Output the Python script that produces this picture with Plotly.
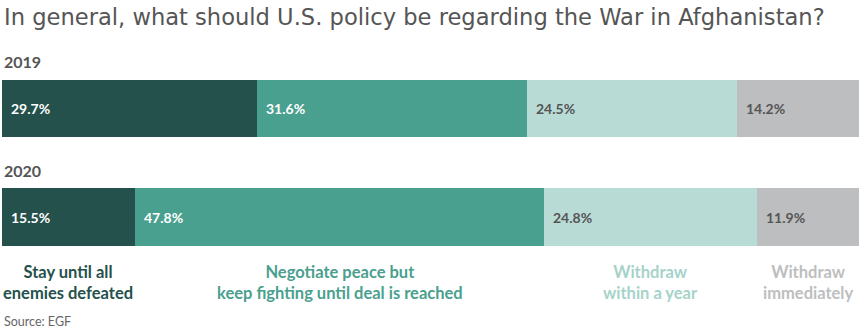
import plotly.graph_objects as go

years = ["2019", "2020"]
categories = ["Stay until all<br>enemies defeated",
              "Negotiate peace but<br>keep fighting until deal is reached",
              "Withdraw<br>within a year",
              "Withdraw<br>immediately"]
values_2019 = [29.7, 31.6, 24.5, 14.2]
values_2020 = [15.5, 47.8, 24.8, 11.9]
series = {"2019": values_2019, "2020": values_2020}

colors = ["#24514B", "#4AA08E", "#B8DCD5", "#BDBEC0"]
text_colors = ["#FFFFFF", "#FFFFFF", "#555555", "#555555"]
label_colors = ["#24514B", "#4AA08E", "#A6D3C9", "#BDBEC0"]

fig = go.Figure()
for i, cat in enumerate(categories):
    fig.add_trace(go.Bar(
        y=years,
        x=[series[yr][i] for yr in years],
        orientation="h",
        marker=dict(color=colors[i], line=dict(width=0)),
        width=0.53,
        name=cat,
        hoverinfo="skip",
        showlegend=False,
    ))

annotations = []
# value labels
for j, yr in enumerate(years):
    start = 0
    for i, v in enumerate(series[yr]):
        annotations.append(dict(
            x=start, y=j, xref="x", yref="y", text=f"<b>{v:.1f}%</b>",
            showarrow=False, xanchor="left", yanchor="middle", xshift=7,
            font=dict(family="Lato", size=14, color=text_colors[i]),
        ))
        start += v
    annotations.append(dict(
        x=0, y=j, xref="x", yref="y", text=f"<b>{yr}</b>", showarrow=False,
        xanchor="left", yanchor="middle", yshift=47,
        font=dict(family="Lato", size=16, color="#555555"),
    ))

# category labels centered under 2020 segments
start = 0
for i, v in enumerate(values_2020):
    annotations.append(dict(
        x=start + v / 2, y=1, xref="x", yref="y", text=f"<b>{categories[i]}</b>",
        showarrow=False, xanchor="center", yanchor="middle", yshift=-65,
        font=dict(family="Lato", size=16.5, color=label_colors[i]),
    ))
    start += v

annotations.append(dict(
    x=0, y=0, xref="paper", yref="paper", text="Source: EGF", showarrow=False,
    xanchor="left", yanchor="bottom", yshift=2, xshift=0,
    font=dict(family="Lato", size=12.5, color="#666666"),
))
annotations.append(dict(
    x=0, y=1, xref="paper", yref="paper",
    text="In general, what should U.S. policy be regarding the War in Afghanistan?",
    showarrow=False, xanchor="left", yanchor="middle", yshift=-17,
    font=dict(family="DejaVu Sans", size=22.6, color="#555555"),
))

fig.update_layout(
    barmode="stack",
    width=867, height=333,
    margin=dict(l=2, r=8, t=0, b=0),
    paper_bgcolor="white", plot_bgcolor="white",
    xaxis=dict(range=[0, 100], visible=False, fixedrange=True),
    yaxis=dict(range=[2.069, -1.0], visible=False, type="category",
               categoryorder="array", categoryarray=years),
    annotations=annotations,
)

fig.write_html("out.html")
